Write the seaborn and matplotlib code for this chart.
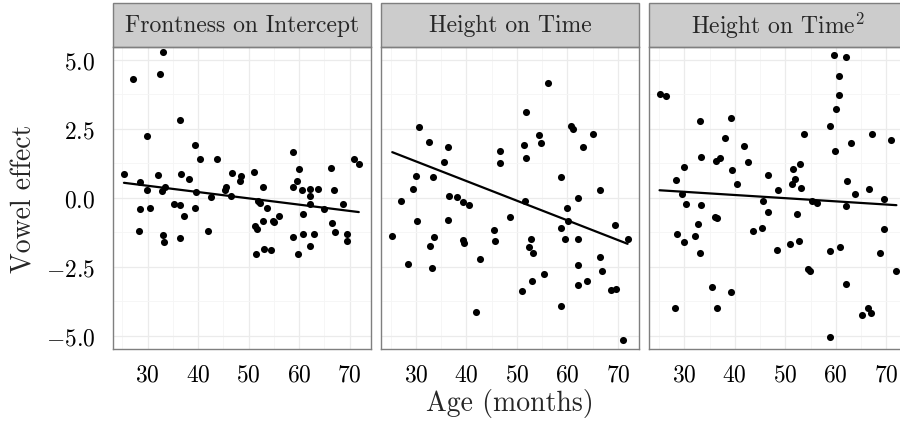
# Vowel effects by age, one panel per random effect term

import pandas as pd
import matplotlib
matplotlib.use("Agg")
import matplotlib.pyplot as plt
import seaborn as sns
from matplotlib.patches import Rectangle
from matplotlib.ticker import MultipleLocator


panels = ["Frontness on Intercept", "Height on Time", "Height on Time$^2$"]

front_age = [25.3, 27.0, 32.4, 33.1, 29.9, 36.3, 28.4, 29.9, 28.5, 30.5,
             28.3, 32.1, 33.4, 32.9, 33.1, 33.3, 35.3, 36.4, 36.5, 37.1,
             36.3, 38.1, 39.3, 40.4, 39.6, 39.4, 41.9, 42.6, 43.7, 45.6,
             45.3, 46.5, 46.6, 48.5, 48.2, 51.1, 52.9, 51.8, 52.2, 53.6,
             52.8, 51.3, 51.7, 54.8, 55.1, 56.1, 51.5, 53.1, 54.4, 58.7,
             60.0, 59.6, 58.8, 60.6, 62.1, 62.1, 63.8, 62.1, 60.7, 58.8,
             60.8, 63.0, 59.8, 62.1, 66.3, 66.8, 65.0, 68.7, 66.4, 67.0,
             69.5, 69.5, 70.9, 71.8]
front_effect = [0.85, 4.29, 4.47, 5.27, 2.22, 2.80, 0.57, 0.29, -0.42, -0.39,
                -1.22, 0.81, 0.39, 0.25, -1.35, -1.61, -0.24, -0.28, 0.86, -0.68,
                -1.46, 0.66, 1.90, 1.39, 0.19, -0.39, -1.22, 0.01, 1.39, 0.40,
                0.27, 0.06, 0.88, 0.80, 0.62, 0.92, 0.37, -0.12, -0.19, -0.39,
                -0.86, -1.04, -1.14, -0.86, -0.89, -0.68, -2.03, -1.87, -1.91, 1.64,
                1.03, 0.59, 0.37, 0.27, 0.30, 0.08, 0.33, -0.21, -0.60, -1.41,
                -1.33, -1.33, -2.03, -1.76, 1.06, 0.29, -0.41, -0.24, -0.93, -1.26,
                -1.32, -1.58, 1.40, 1.21]

time_age = [25.3, 27.1, 28.5, 30.5, 30.0, 29.5, 30.1, 32.5, 33.4, 33.6,
            32.8, 33.2, 36.3, 35.5, 36.6, 38.1, 39.3, 40.4, 36.4, 39.4,
            39.6, 42.7, 41.9, 46.6, 46.6, 45.4, 45.6, 48.7, 51.3, 51.8,
            51.7, 51.6, 52.8, 52.3, 53.2, 51.0, 53.0, 54.4, 54.8, 55.3,
            56.1, 58.8, 60.0, 60.1, 58.7, 59.6, 58.8, 60.6, 61.0, 63.1,
            62.1, 62.0, 62.0, 62.0, 63.9, 65.1, 66.4, 66.4, 66.9, 68.7,
            69.6, 69.5, 71.9, 70.9]
time_effect = [-1.40, -0.13, -2.39, 2.55, 0.77, 0.30, -0.86, 2.00, 0.75, -1.44,
               -1.74, -2.56, 1.82, 1.28, 0.06, 0.02, -0.14, -0.27, -0.79, -1.53,
               -1.64, -2.23, -4.15, 1.68, 1.24, -1.18, -1.55, -0.71, 1.90, 3.09,
               1.43, -0.12, -1.51, -1.80, -2.02, -3.39, -3.03, 2.26, 1.97, -2.78,
               4.14, 0.74, -0.37, -0.86, -1.11, -1.51, -3.94, 2.58, 2.48, 1.82,
               -0.02, -1.51, -2.45, -3.15, -3.00, 2.32, 0.27, -2.13, -2.67, -3.36,
               -3.30, -1.00, -1.51, -5.17]

time2_age = [25.1, 26.3, 28.3, 29.5, 29.9, 30.3, 28.5, 29.9, 28.1, 33.1,
             33.4, 33.3, 32.8, 32.1, 33.1, 35.4, 36.4, 36.1, 36.5, 36.2,
             37.0, 38.0, 39.3, 39.5, 40.4, 39.3, 41.9, 42.6, 43.6, 45.4,
             45.6, 46.6, 46.6, 48.3, 48.6, 51.0, 52.7, 52.3, 51.3, 51.9,
             51.6, 52.9, 53.2, 53.7, 54.4, 54.8, 55.3, 56.2, 58.8, 59.7,
             60.0, 60.7, 60.7, 62.1, 59.9, 58.9, 60.9, 58.8, 62.0, 62.0,
             62.2, 63.1, 63.8, 66.5, 67.1, 66.4, 65.2, 67.0, 69.5, 69.5,
             68.8, 71.0, 72.0]
time2_effect = [3.76, 3.67, 0.63, 0.12, 1.10, -0.24, -1.33, -1.62, -4.01, 2.77,
                1.46, -0.27, -0.97, -1.40, -2.02, -3.25, -4.01, -0.71, -0.72, 1.32,
                1.44, 2.15, 2.87, 0.99, 0.48, -3.43, 1.86, 1.28, -1.22, -1.11,
                -0.13, 0.81, -0.53, -1.91, 0.27, -1.69, -1.58, -0.60, 0.48, 0.69,
                1.05, 1.21, 0.34, 2.32, -2.57, -2.67, -0.13, -0.18, 2.58, 5.16,
                3.22, 3.71, 4.40, 5.08, 1.68, -1.94, -1.80, -5.06, -3.14, -0.31,
                0.59, 1.97, 0.12, 0.30, 2.29, -4.00, -4.26, -4.18, -0.05, -1.15,
                -2.02, 2.09, -2.66]

# fitted trend at the youngest and oldest child of each panel
front_trend = [0.54, -0.52]
time_trend = [1.65, -1.67]
time2_trend = [0.27, -0.27]

df = pd.concat([
    pd.DataFrame({"panel": panels[0], "age": front_age, "effect": front_effect}),
    pd.DataFrame({"panel": panels[1], "age": time_age, "effect": time_effect}),
    pd.DataFrame({"panel": panels[2], "age": time2_age, "effect": time2_effect}),
])
trends = [front_trend, time_trend, time2_trend]

sns.set_style("white")
plt.rcParams['font.family'] = 'serif'
plt.rcParams['font.serif'] = ['cmr10']
plt.rcParams['mathtext.fontset'] = 'cm'
plt.rcParams['axes.formatter.use_mathtext'] = True

fig = plt.figure(figsize=(9, 4.27), dpi=100)

# panel boxes in pixels (ggplot facet layout, last panel runs off the edge)
W, H = 900, 427
pw, ph = 258, 302.3
strip_h = 44 / ph
axes = []
for i, name in enumerate(panels):
    left = (112.7 + i * 268.3) / W
    ax = fig.add_axes([left, 77 / H, pw / W, ph / H],
                      sharey=axes[0] if axes else None)
    axes.append(ax)
    sub = df[df["panel"] == name]
    sns.scatterplot(data=sub, x="age", y="effect", ax=ax, color="black",
                    s=26, linewidth=0)
    line = pd.DataFrame({"age": [sub["age"].min(), sub["age"].max()],
                         "effect": trends[i]})
    sns.lineplot(data=line, x="age", y="effect", ax=ax, color="black", lw=1.6)

    ax.set_xlim(23.07, 74.16)
    ax.set_ylim(-5.48, 5.47)
    ax.xaxis.set_major_locator(MultipleLocator(10))
    ax.xaxis.set_minor_locator(MultipleLocator(5))
    ax.yaxis.set_major_locator(MultipleLocator(2.5))
    ax.yaxis.set_minor_locator(MultipleLocator(1.25))
    ax.grid(which='major', color='#EBEBEB', lw=0.9)
    ax.grid(which='minor', color='#F5F5F5', lw=0.6)
    ax.set_axisbelow(True)
    for s in ax.spines.values():
        s.set_color('#7F7F7F')
        s.set_linewidth(1.0)
    ax.tick_params(which='major', length=7.5, width=1.6, color='#222222',
                   labelsize=17, labelcolor='black')
    ax.tick_params(axis='x', pad=3)
    ax.tick_params(axis='y', pad=5)
    ax.tick_params(which='minor', length=0)
    ax.set_xlabel("")
    ax.set_ylabel("")
    if i > 0:
        ax.tick_params(axis='y', left=False, labelleft=False)

    ax.add_patch(Rectangle((0, 1), 1, strip_h, transform=ax.transAxes,
                           facecolor='#CCCCCC', edgecolor='#7F7F7F', lw=1.0,
                           clip_on=False))
    ax.text(0.5, 1 + strip_h / 2, name, transform=ax.transAxes,
            ha='center', va='center', fontsize=17)

axes[0].set_ylabel("Vowel effect", fontsize=20, labelpad=6)
axes[1].set_xlabel("Age (months)", fontsize=20, labelpad=2)

fig.savefig("out.png", dpi=100)
